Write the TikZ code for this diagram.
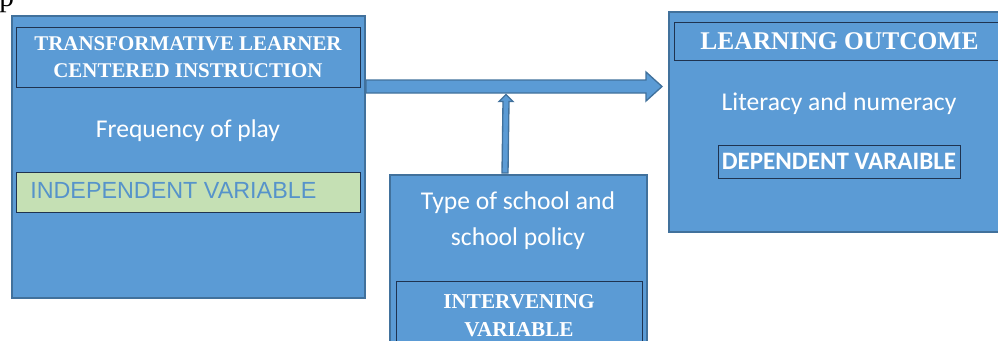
\documentclass[tikz,border=0pt]{standalone}
\usepackage{fontspec}
\setmainfont{Liberation Serif}
\newfontfamily\calibri{Carlito}
\newfontfamily\arial{Liberation Sans}
\usepackage{tikz}
\usetikzlibrary{positioning}
\usetikzlibrary{shapes,calc,arrows.meta}
\definecolor{boxblue}{HTML}{5B9BD5}
\definecolor{edgeblue}{HTML}{41719C}
\definecolor{darkedge}{HTML}{1F3350}
\definecolor{palegreen}{HTML}{C5E0B4}
\tikzset{
	x=0.75pt, y=-0.75pt,
	varbox/.style = {rectangle, draw=edgeblue, fill=boxblue, line width=1.5pt, inner sep=0pt},
	headbox/.style = {rectangle, draw=darkedge, line width=0.6pt, inner sep=0pt,
	 text=white, align=center, font=\bfseries\fontsize{15.7}{20}\selectfont},
	plain/.style = {text=white, align=center, inner sep=0pt,
	 font=\calibri\fontsize{19.2}{27}\selectfont},
	blockarrow/.style = {draw=edgeblue, fill=boxblue, line width=1pt, line join=miter},
}
\begin{document}
\begin{tikzpicture}
	\useasboundingbox (0,0) rectangle (998,340);
	% stray letter from the line above
	\node at(-1,6) [anchor=base west, inner sep=0pt, font=\fontsize{22}{24}\selectfont] {p};
	% independent variable
	\node at(188.5,157) (Play) [varbox, minimum width=353*0.75pt, minimum height=282*0.75pt] {};
	\node at(188,57) (PlayHead) [headbox, minimum width=344*0.75pt, minimum height=60*0.75pt]
		{TRANSFORMATIVE LEARNER\\CENTERED INSTRUCTION};
	\node at(188,131) (PlayText) [plain] {Frequency of play};
	\node at(188,192) (PlayVar) [rectangle, draw=darkedge, fill=palegreen, line width=0.6pt,
		minimum width=344*0.75pt, minimum height=40*0.75pt, inner sep=0pt] {};
	\node at(30,190.5) [anchor=west, inner sep=0pt, text=boxblue!95!black,
		font=\arial\fontsize{17.5}{20}\selectfont] {INDEPENDENT VARIABLE};
	% intervening variable
	\node at(518.5,262.5) (School) [varbox, minimum width=257*0.75pt, minimum height=175*0.75pt] {};
	\node at(518,221) (SchoolText) [plain] {Type of school and\\school policy};
	\node at(519,316) (SchoolHead) [headbox, minimum width=246*0.75pt, minimum height=70*0.75pt,
		font=\bfseries\fontsize{15.9}{21}\selectfont] {INTERVENING\\VARIABLE};
	% dependent variable
	\node at(837,122) (Outcome) [varbox, minimum width=336*0.75pt, minimum height=220*0.75pt] {};
	\node at(839.5,41) (OutcomeHead) [headbox, minimum width=331*0.75pt, minimum height=38*0.75pt,
		font=\bfseries\fontsize{19.1}{22}\selectfont] {LEARNING OUTCOME};
	\node at(839,103.5) (OutcomeText) [plain] {Literacy and numeracy};
	\node at(839,161.5) (OutcomeVar) [rectangle, draw=darkedge, line width=0.6pt, text=white,
		minimum width=242*0.75pt, minimum height=33*0.75pt, inner sep=0pt,
		font=\calibri\bfseries\fontsize{18.8}{20}\selectfont] {DEPENDENT VARAIBLE};
	% main arrow into the outcome box
	\coordinate (ShaftStart) at ($(Play.north east)+(0,65)$);
	\coordinate (TipEnd) at ($(Outcome.north west)+(-6,75.5)$);
	\draw[blockarrow] (ShaftStart) -- ($(TipEnd)+(-16,-6.5)$) -- ($(TipEnd)+(-16,-14.5)$)
		-- (TipEnd) -- ($(TipEnd)+(-16,14.5)$) -- ($(TipEnd)+(-16,6.5)$)
		-- ($(ShaftStart)+(0,13)$) -- cycle;
	% intervening arrow up to the shaft
	\coordinate (UpStart) at ($(School.north)+(-13.5,-1)$);
	\coordinate (UpEnd) at ($(ShaftStart)+(140,14.5)$);
	\draw[blockarrow] ($(UpStart)+(-3,0)$) -- ($(UpEnd)+(-3,7)$) -- ($(UpEnd)+(-7,7)$)
		-- (UpEnd) -- ($(UpEnd)+(7,7)$) -- ($(UpEnd)+(3,7)$) -- ($(UpStart)+(3,0)$) -- cycle;
\end{tikzpicture}
\end{document}
